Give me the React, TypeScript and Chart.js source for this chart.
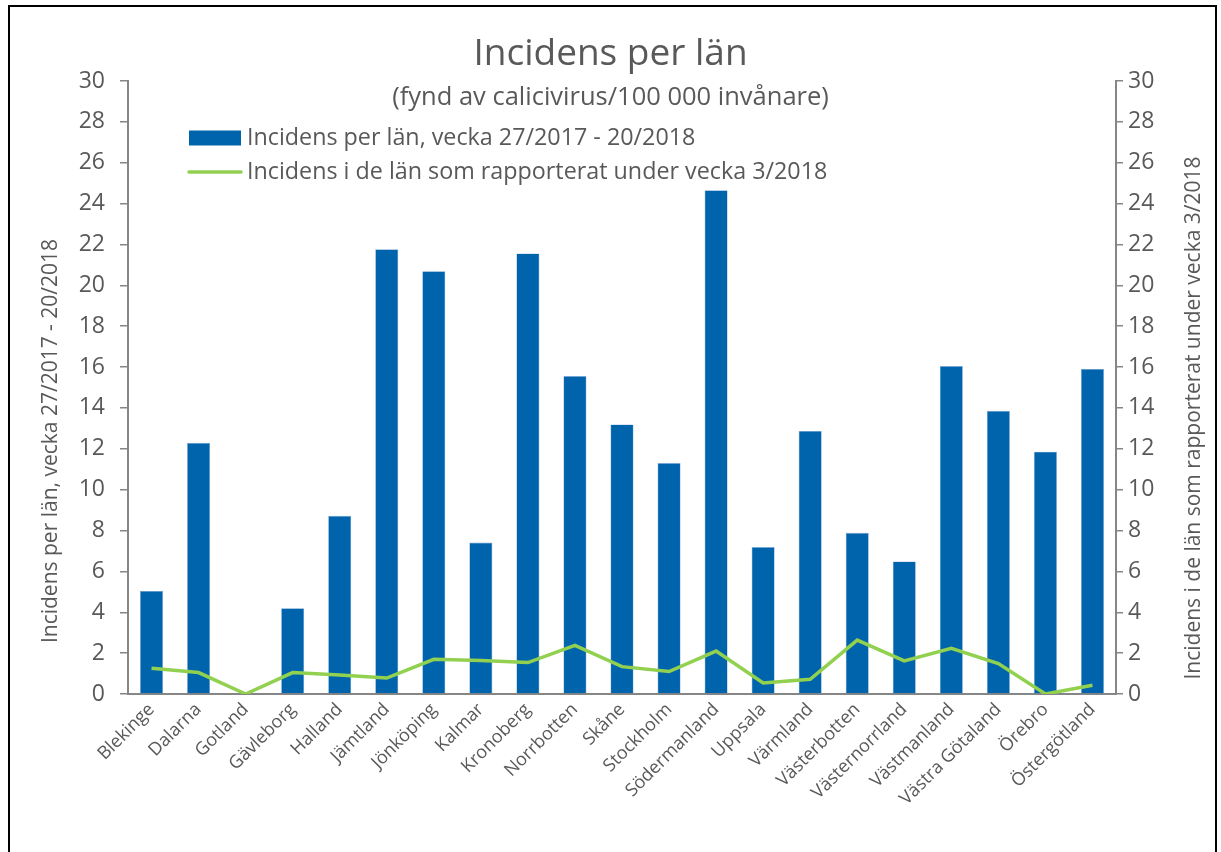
import React, { useEffect, useRef } from "react";
import { Chart, registerables } from "chart.js";

Chart.register(...registerables);

const categories: string[] = [
  "Blekinge", "Dalarna", "Gotland", "Gävleborg", "Halland", "Jämtland", "Jönköping",
  "Kalmar", "Kronoberg", "Norrbotten", "Skåne", "Stockholm", "Södermanland", "Uppsala",
  "Värmland", "Västerbotten", "Västernorrland", "Västmanland", "Västra Götaland", "Örebro", "Östergötland",
];

const incidensPeriod: number[] = [
  5.04, 12.29, 0, 4.2, 8.72, 21.76, 20.69, 7.41, 21.56, 15.56, 13.19, 11.3, 24.65, 7.19,
  12.87, 7.89, 6.49, 16.05, 13.86, 11.86, 15.91,
];

const incidensVecka3: number[] = [
  1.26, 1.05, 0, 1.05, 0.93, 0.78, 1.7, 1.64, 1.54, 2.38, 1.34, 1.1, 2.1, 0.54,
  0.72, 2.64, 1.62, 2.24, 1.49, 0, 0.43,
];

const barLabel = "Incidens per län, vecka 27/2017 - 20/2018";
const lineLabel = "Incidens i de län som rapporterat under vecka 3/2018";
const titleText = "Incidens per län";
const subtitleText = "(fynd av calicivirus/100 000 invånare)";
const leftAxisTitle = "Incidens per län, vecka 27/2017 - 20/2018";
const rightAxisTitle = "Incidens i de län som rapporterat under vecka 3/2018";

const yMin = 0;
const yMax = 30;
const yStep = 2;

const BAR_COLOR = "#0064AD";
const LINE_COLOR = "#92D050";
const TEXT_COLOR = "#595959";
const AXIS_COLOR = "#868686";
const FONT = "'Open Sans', 'Noto Sans', sans-serif";

const overlayPlugin = {
  id: "overlay",
  afterDraw(chart: any) {
    const { ctx, chartArea, width } = chart;
    ctx.save();
    ctx.fillStyle = TEXT_COLOR;
    ctx.textAlign = "center";
    ctx.textBaseline = "middle";
    // titles
    ctx.font = `37px ${FONT}`;
    ctx.fillText(titleText, width / 2, 54);
    ctx.font = `25.5px ${FONT}`;
    ctx.fillText(subtitleText, width / 2, 98);

    // legend
    const lx = chartArea.left + 61;
    const r1 = chartArea.top + 57;
    const r2 = chartArea.top + 91;
    ctx.fillStyle = BAR_COLOR;
    ctx.fillRect(lx, r1 - 7.5, 52, 15);
    ctx.strokeStyle = LINE_COLOR;
    ctx.lineWidth = 3.5;
    ctx.lineCap = "round";
    ctx.beginPath();
    ctx.moveTo(lx, r2);
    ctx.lineTo(lx + 52, r2);
    ctx.stroke();
    ctx.fillStyle = TEXT_COLOR;
    ctx.textAlign = "left";
    ctx.font = `23.3px ${FONT}`;
    ctx.fillText(chart.data.datasets[0].label, lx + 58, r1);
    ctx.fillText(chart.data.datasets[1].label, lx + 58, r2);

    // axis titles
    ctx.textAlign = "center";
    ctx.font = `21px ${FONT}`;
    ctx.save();
    ctx.translate(51, chartArea.top + 360);
    ctx.rotate(-Math.PI / 2);
    ctx.fillText(leftAxisTitle, 0, 0);
    ctx.restore();
    ctx.save();
    ctx.translate(1194, chartArea.top + 337);
    ctx.rotate(-Math.PI / 2);
    ctx.fillText(rightAxisTitle, 0, 0);
    ctx.restore();
    ctx.restore();
  },
};

export default function App() {
  const canvasRef = useRef<HTMLCanvasElement | null>(null);

  useEffect(() => {
    if (!canvasRef.current) return;
    const yTicks = {
      color: TEXT_COLOR,
      font: { family: FONT, size: 23 },
      stepSize: yStep,
    };
    const chart = new Chart(canvasRef.current, {
      type: "bar",
      data: {
        labels: categories,
        datasets: [
          {
            type: "bar",
            label: barLabel,
            data: incidensPeriod,
            backgroundColor: BAR_COLOR,
            borderColor: "#7FA8D6",
            borderWidth: 0.6,
            categoryPercentage: 1,
            barPercentage: 0.49,
            yAxisID: "y",
            order: 2,
          },
          {
            type: "line",
            label: lineLabel,
            data: incidensVecka3,
            borderColor: LINE_COLOR,
            backgroundColor: LINE_COLOR,
            borderWidth: 3.5,
            pointRadius: 0,
            tension: 0,
            yAxisID: "y1",
            order: 1,
          },
        ] as any,
      },
      options: {
        animation: false,
        responsive: true,
        maintainAspectRatio: false,
        layout: { padding: { top: 81, left: 0, right: 0, bottom: 0 } },
        plugins: {
          legend: { display: false },
          title: { display: false },
          tooltip: { enabled: false },
        },
        scales: {
          x: {
            grid: { display: false, drawTicks: false },
            border: { display: true, color: AXIS_COLOR, width: 2 },
            ticks: {
              color: TEXT_COLOR,
              font: { family: FONT, size: 18 },
              maxRotation: 45,
              minRotation: 45,
              padding: 5,
              autoSkip: false,
            },
            afterFit(scale: any) {
              scale.height = 158;
            },
          },
          y: {
            position: "left",
            min: yMin,
            max: yMax,
            grid: {
              display: true,
              drawOnChartArea: false,
              drawTicks: true,
              tickLength: 8,
              color: AXIS_COLOR,
              lineWidth: 1.5,
            },
            border: { display: true, color: AXIS_COLOR, width: 2 },
            ticks: { ...yTicks, padding: 15 },
            afterFit(scale: any) {
              scale.width = 128;
            },
          },
          y1: {
            position: "right",
            min: yMin,
            max: yMax,
            grid: {
              display: true,
              drawOnChartArea: false,
              drawTicks: true,
              tickLength: 7,
              color: AXIS_COLOR,
              lineWidth: 1.5,
            },
            border: { display: true, color: AXIS_COLOR, width: 2 },
            ticks: { ...yTicks, padding: 5 },
            afterFit(scale: any) {
              scale.width = 105;
            },
          },
        },
      } as any,
      plugins: [overlayPlugin],
    });
    return () => chart.destroy();
  }, []);

  return (
    <>
      <div
        style={{
          position: "fixed",
          left: 0,
          top: 0,
          width: 1221,
          height: 852,
          background: "#ffffff",
        }}
      >
        <canvas ref={canvasRef} />
      </div>
      <div
        style={{
          position: "fixed",
          left: 8,
          top: 5,
          width: 1209,
          height: 900,
          border: "2px solid #000",
          boxSizing: "border-box",
          pointerEvents: "none",
        }}
      />
    </>
  );
}
